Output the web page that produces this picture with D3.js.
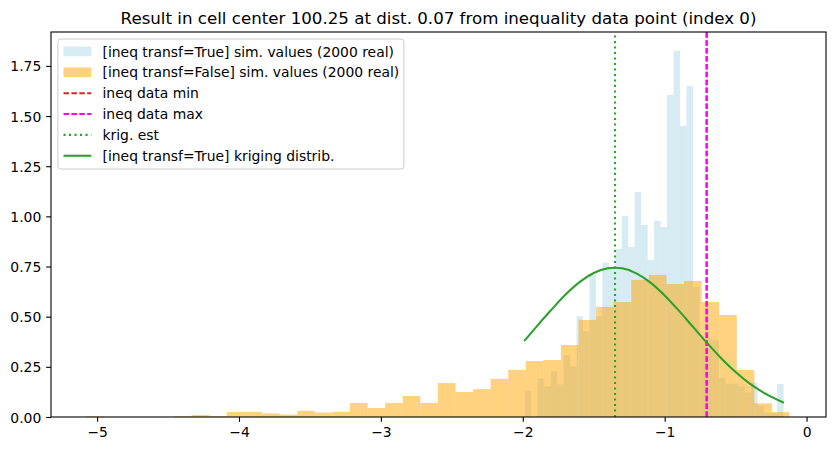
<!DOCTYPE html>
<meta charset="utf-8" />
<title>Simulation histogram</title>
<style>
  body {
    margin: 0;
    background: #fff;
  }
  svg {
    display: block;
    font-family: "DejaVu Sans", sans-serif;
  }
  .tick text {
    font-size: 13.9px;
    fill: #000;
  }
</style>

<body>
  <svg width="835" height="451"></svg>

  <script src="https://d3js.org/d3.v7.min.js"></script>
  <script>
    // [ineq transf=True] sim. values: 40 bins, density
    const trueRange = [-1.986, -0.162];
    const trueDensity = [
      0.130, 0, 0.193, 0.153, 0.228, 0.163, 0.308, 0.252, 0.502, 0.428,
      0.708, 0.502, 0.768, 0.749, 0.838, 1.002, 0.847, 1.122, 0.957, 0.782,
      0.977, 0.947, 1.605, 1.825, 1.451, 1.651, 0.649, 0.39, 0.394, 0.384,
      0.195, 0.167, 0.167, 0.154, 0.123, 0.172, 0.056, 0.021, 0.021, 0.164
    ];

    // [ineq transf=False] sim. values: 40 bins, density
    const falseRange = [-5.077, -0.12];
    const falseDensity = [
      0.004, 0, 0, 0, 0, 0.004, 0.01, 0.004, 0.025, 0.025,
      0.018, 0.012, 0.031, 0.022, 0.026, 0.07, 0.045, 0.07, 0.105, 0.07,
      0.169, 0.125, 0.139, 0.19, 0.235, 0.279, 0.284, 0.359, 0.484, 0.549,
      0.573, 0.683, 0.708, 0.663, 0.678, 0.573, 0.509, 0.234, 0.068, 0.024
    ];

    // vertical markers
    const ineqMin = -0.704;
    const ineqMax = -0.704;
    const krigEst = -1.35;

    // kriging distribution curve
    const krigX = [-1.99, -1.9, -1.8, -1.7, -1.6, -1.5, -1.4, -1.35, -1.3, -1.2,
      -1.1, -1.0, -0.9, -0.8, -0.7, -0.6, -0.5, -0.4, -0.3, -0.16];
    const krigY = [0.379, 0.453, 0.533, 0.609, 0.672, 0.718, 0.741, 0.744, 0.741, 0.716,
      0.67, 0.606, 0.53, 0.449, 0.368, 0.292, 0.224, 0.166, 0.12, 0.071];

    const xTicks = [-5, -4, -3, -2, -1, 0];
    const yTicks = [0, 0.25, 0.5, 0.75, 1.0, 1.25, 1.5, 1.75];

    const title = "Result in cell center 100.25 at dist. 0.07 from inequality data point (index 0)";
    const legendItems = [
      { label: "[ineq transf=True] sim. values (2000 real)", type: "patch", color: "lightblue" },
      { label: "[ineq transf=False] sim. values (2000 real)", type: "patch", color: "orange" },
      { label: "ineq data min", type: "line", color: "#d62728", dash: "5.5,2.4" },
      { label: "ineq data max", type: "line", color: "#ff00ff", dash: "5.5,2.4" },
      { label: "krig. est", type: "line", color: "#2ca02c", dash: "2.1,3.4" },
      { label: "[ineq transf=True] kriging distrib.", type: "line", color: "#2ca02c", dash: null }
    ];

    const svg = d3.select("svg");
    const mLeft = 51, mRight = 826, mTop = 32, mBottom = 417;

    const x = d3.scaleLinear().domain([-5.325, 0.137]).range([mLeft, mRight]);
    const y = d3.scaleLinear().domain([0, 1.919]).range([mBottom, mTop]);

    function bins(range, dens) {
      const w = (range[1] - range[0]) / dens.length;
      return dens.map((d, i) => ({ x0: range[0] + i * w, x1: range[0] + (i + 1) * w, v: d }));
    }

    svg.append("rect").attr("width", 835).attr("height", 451).attr("fill", "#fff");

    const plot = svg.append("g");

    plot.selectAll("rect.t")
      .data(bins(trueRange, trueDensity).filter(d => d.v > 0))
      .join("rect")
      .attr("class", "t")
      .attr("x", d => x(d.x0))
      .attr("width", d => x(d.x1) - x(d.x0))
      .attr("y", d => y(d.v))
      .attr("height", d => y(0) - y(d.v))
      .attr("fill", "lightblue")
      .attr("fill-opacity", 0.5);

    plot.selectAll("rect.f")
      .data(bins(falseRange, falseDensity).filter(d => d.v > 0))
      .join("rect")
      .attr("class", "f")
      .attr("x", d => x(d.x0))
      .attr("width", d => x(d.x1) - x(d.x0))
      .attr("y", d => y(d.v))
      .attr("height", d => y(0) - y(d.v))
      .attr("fill", "orange")
      .attr("fill-opacity", 0.5);

    const vlines = [
      { v: ineqMin, color: "#d62728", dash: "5.5,2.4" },
      { v: ineqMax, color: "#ff00ff", dash: "5.5,2.4" },
      { v: krigEst, color: "#2ca02c", dash: "2.1,3.4" }
    ];
    plot.selectAll("line.v")
      .data(vlines)
      .join("line")
      .attr("x1", d => x(d.v)).attr("x2", d => x(d.v))
      .attr("y1", mBottom).attr("y2", mTop)
      .attr("stroke", d => d.color)
      .attr("stroke-width", 2.08)
      .attr("stroke-dasharray", d => d.dash);

    const line = d3.line()
      .x((d, i) => x(krigX[i]))
      .y(d => y(d))
      .curve(d3.curveMonotoneX);

    plot.append("path")
      .attr("d", line(krigY))
      .attr("fill", "none")
      .attr("stroke", "#2ca02c")
      .attr("stroke-width", 2.08);

    // axes
    const xAxis = svg.append("g")
      .attr("transform", `translate(0,${mBottom})`)
      .call(d3.axisBottom(x).tickValues(xTicks).tickSize(4.86).tickPadding(4.86)
        .tickFormat(d => d3.format("d")(d).replace("-", "\u2212")));
    const yAxis = svg.append("g")
      .attr("transform", `translate(${mLeft},0)`)
      .call(d3.axisLeft(y).tickValues(yTicks).tickSize(4.86).tickPadding(4.86)
        .tickFormat(d3.format(".2f")));
    [xAxis, yAxis].forEach(g => {
      g.select(".domain").remove();
      g.selectAll(".tick line").attr("stroke", "#000").attr("stroke-width", 1.1);
      g.attr("font-family", null).attr("font-size", null);
    });
    xAxis.selectAll(".tick text").attr("dy", "0.76em");
    yAxis.selectAll(".tick text").attr("dy", "0.36em");

    svg.append("rect")
      .attr("x", mLeft).attr("y", mTop)
      .attr("width", mRight - mLeft).attr("height", mBottom - mTop)
      .attr("fill", "none")
      .attr("stroke", "#000")
      .attr("stroke-width", 1.1);

    svg.append("text")
      .attr("x", (mLeft + mRight) / 2)
      .attr("y", mTop - 8.3)
      .attr("text-anchor", "middle")
      .attr("font-size", "16.67px")
      .text(title);

    // legend
    const leg = svg.append("g").attr("transform", "translate(57.9,39)");
    leg.append("rect")
      .attr("width", 346).attr("height", 130)
      .attr("rx", 2.8)
      .attr("fill", "#fff").attr("fill-opacity", 0.8)
      .attr("stroke", "#ccc").attr("stroke-width", 1);

    const row = leg.selectAll("g.item")
      .data(legendItems)
      .join("g")
      .attr("class", "item")
      .attr("transform", (d, i) => `translate(5.6,${12.5 + i * 20.85})`);

    row.filter(d => d.type === "patch")
      .append("rect")
      .attr("y", -4.9).attr("width", 27.8).attr("height", 9.7)
      .attr("fill", d => d.color)
      .attr("fill-opacity", 0.5);

    row.filter(d => d.type === "line")
      .append("line")
      .attr("x2", 27.8)
      .attr("stroke", d => d.color)
      .attr("stroke-width", 2.08)
      .attr("stroke-dasharray", d => d.dash);

    row.append("text")
      .attr("x", 39)
      .attr("dy", "0.36em")
      .attr("font-size", "13.9px")
      .text(d => d.label);
  </script>
</body>
